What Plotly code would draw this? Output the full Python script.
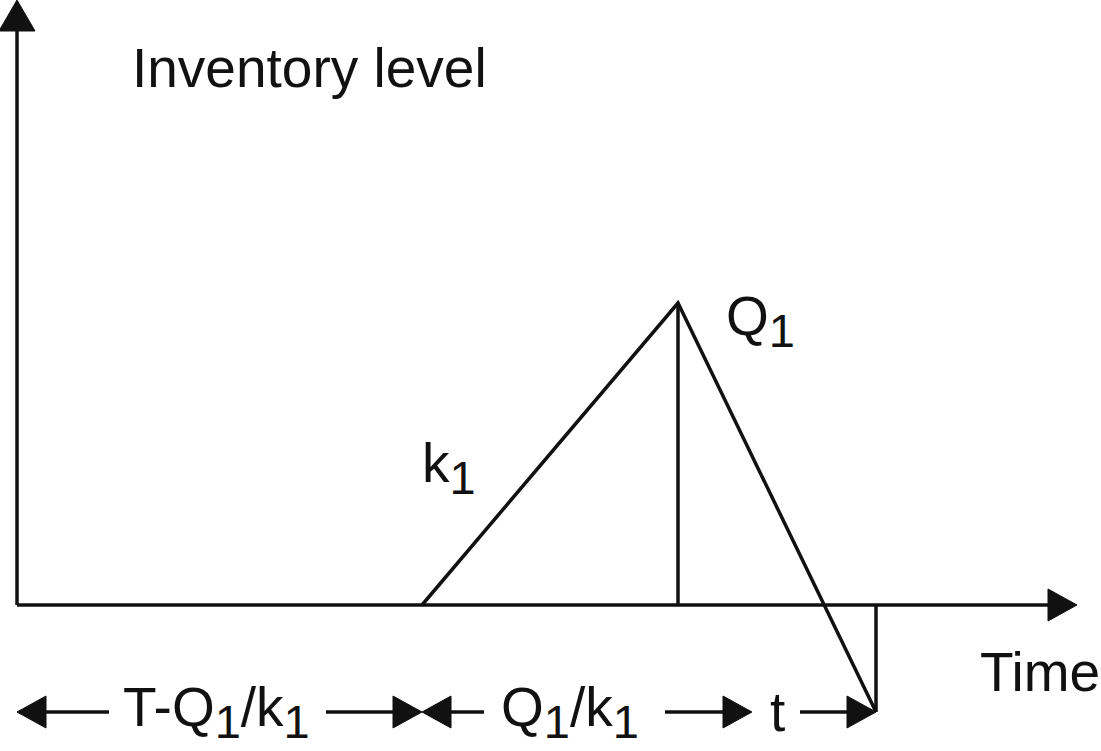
import plotly.graph_objects as go

# ---- data (time units / inventory units) ----
axis_time_end = 1060          # tip of time axis
axis_inv_end = 605            # tip of inventory axis
cycle_time = [405, 661, 859]  # production start, peak, end of cycle
cycle_inv = [0, 302, -107]    # inventory at those times (Q1 peak, shortage)
dim_level = -107              # level of dimension arrows
dim_bounds = [0, 405, 735, 859]
SUB = '<sub><span style="font-size:47px">1</span></sub>'
dim_labels = ["T-Q" + SUB + "/k" + SUB, "Q" + SUB + "/k" + SUB, "t"]
dim_label_x = [199, 553, 760]
dim_gap_left = [92, 467, 783]    # where left line ends (line from bound to here)
dim_gap_right = [309, 648, None]  # where right line starts
label_texts = ["Inventory level", "Time", "Q" + SUB, "k" + SUB]
label_x = [113, 961, 707, 403]
label_y = [537, -67, 284, 137]

LINE = dict(color="#111111", width=3.5)
HEAD_LEN, HEAD_HALF = 29, 16
FONT = dict(family="Liberation Sans", size=55, color="#111111")

fig = go.Figure()

def seg(x0, y0, x1, y1):
    fig.add_trace(go.Scatter(x=[x0, x1], y=[y0, y1], mode="lines", line=LINE,
                             hoverinfo="skip", showlegend=False))

def head(tx, ty, d):
    if d == "right":
        xs = [tx, tx - HEAD_LEN, tx - HEAD_LEN, tx]; ys = [ty, ty + HEAD_HALF, ty - HEAD_HALF, ty]
    elif d == "left":
        xs = [tx, tx + HEAD_LEN, tx + HEAD_LEN, tx]; ys = [ty, ty + HEAD_HALF, ty - HEAD_HALF, ty]
    else:  # up
        xs = [tx, tx - HEAD_HALF - 2, tx + HEAD_HALF + 2, tx]; ys = [ty, ty - HEAD_LEN - 2, ty - HEAD_LEN - 2, ty]
    fig.add_trace(go.Scatter(x=xs, y=ys, mode="lines", fill="toself", fillcolor="#111111",
                             line=dict(color="#111111", width=1), hoverinfo="skip", showlegend=False))

# axes
seg(0, 0, 0, axis_inv_end - HEAD_LEN)
head(0, axis_inv_end, "up")
seg(0, 0, axis_time_end - HEAD_LEN, 0)
head(axis_time_end, 0, "right")

# inventory cycle
fig.add_trace(go.Scatter(x=[cycle_time[0]] + cycle_time, y=[0] + cycle_inv, mode="lines",
                         line=LINE, hoverinfo="skip", showlegend=False))
seg(cycle_time[1], 0, cycle_time[1], cycle_inv[1])
seg(cycle_time[2], 0, cycle_time[2], cycle_inv[2])

# dimension arrows
for i in range(3):
    a, b = dim_bounds[i], dim_bounds[i + 1]
    if i < 2:
        head(a, dim_level, "left")
        seg(a + HEAD_LEN, dim_level, dim_gap_left[i], dim_level)
        seg(dim_gap_right[i], dim_level, b - HEAD_LEN, dim_level)
        head(b, dim_level, "right")
    else:
        seg(dim_gap_left[i], dim_level, b - HEAD_LEN, dim_level)
        head(b, dim_level, "right")
    fig.add_annotation(x=dim_label_x[i], y=dim_level, text=dim_labels[i], showarrow=False,
                       font=FONT, xanchor="center", yanchor="middle")

for t, x, y in zip(label_texts, label_x, label_y):
    fig.add_annotation(x=x, y=y, text=t, showarrow=False, font=FONT,
                       xanchor="left", yanchor="middle")

fig.update_layout(
    width=1101, height=751, margin=dict(l=0, r=0, t=0, b=0),
    plot_bgcolor="white", paper_bgcolor="white", showlegend=False,
    font=FONT,
    xaxis=dict(range=[-17, 1084], visible=False, fixedrange=True),
    yaxis=dict(range=[-146, 605], visible=False, fixedrange=True),
)

fig.write_html("out.html", config={"displayModeBar": False},
               post_script="document.body.style.margin='0';document.body.style.overflow='hidden';")
